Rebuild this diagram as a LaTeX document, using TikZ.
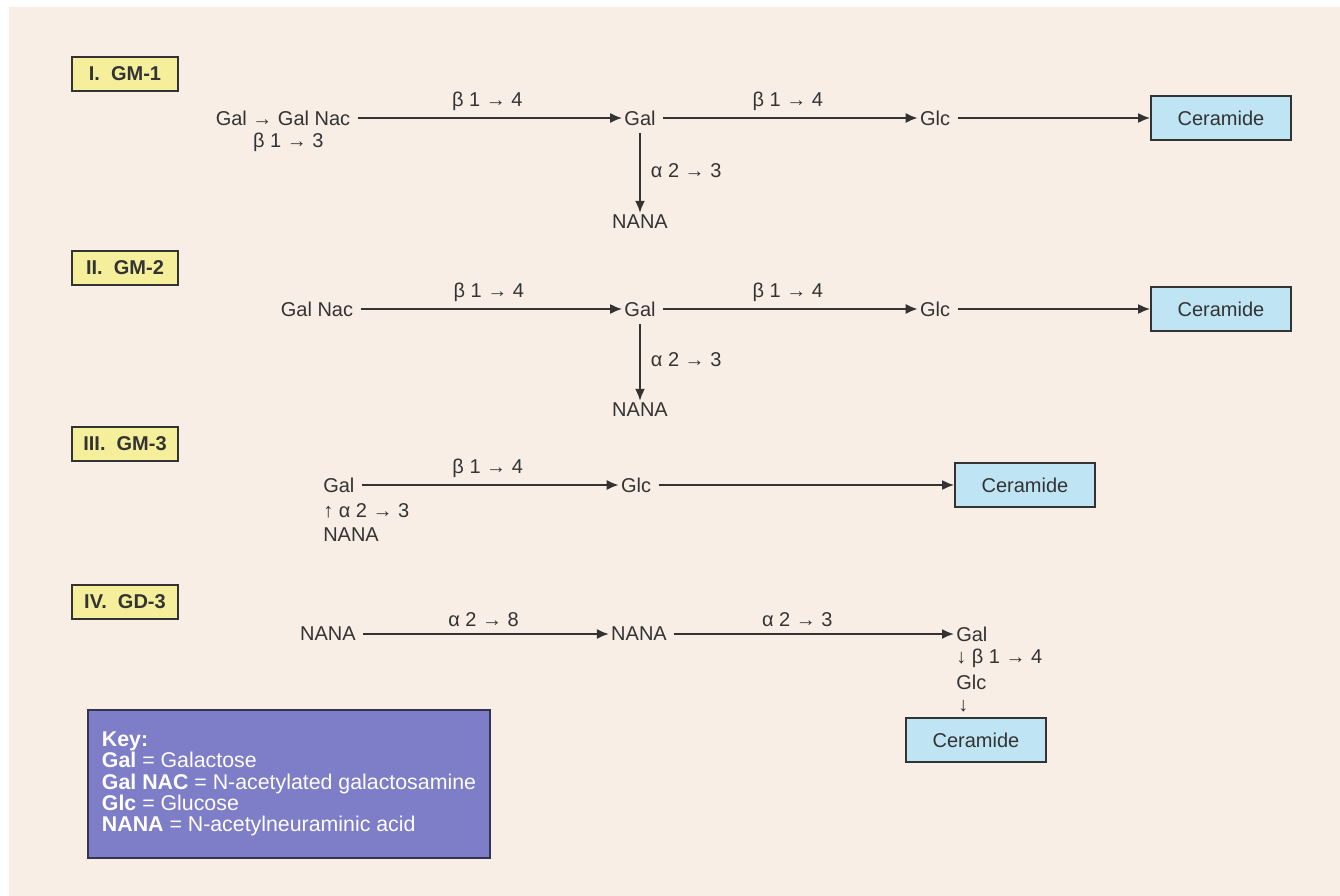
\documentclass[tikz,border=0pt]{standalone}
\usepackage{fontspec}
\setmainfont{Liberation Sans}
\usepackage{xcolor}
\usetikzlibrary{arrows.meta, positioning}
\definecolor{bgc}{HTML}{F8EEE6}
\definecolor{ink}{HTML}{333333}
\definecolor{tagfill}{HTML}{F5EF9C}
\definecolor{cerfill}{HTML}{BFE4F4}
\definecolor{keyfill}{HTML}{7E7DC8}
\definecolor{keyline}{HTML}{34344E}

\begin{document}
\begin{tikzpicture}[x=0.75pt, y=-0.75pt,
  txt/.style={inner sep=1.5pt, text=ink, font=\fontsize{15}{17}\selectfont},
  lab/.style={txt, above=3pt},
  rlab/.style={txt, right=6pt},
  tag/.style={rectangle, draw=ink, line width=1.3pt, fill=tagfill, text=ink,
              minimum width=79pt, minimum height=25.5pt,
              font=\fontsize{15}{17}\selectfont\bfseries},
  cer/.style={rectangle, draw=ink, line width=1.3pt, fill=cerfill, text=ink,
              minimum width=105pt, minimum height=32.5pt,
              font=\fontsize{15}{17}\selectfont},
  keybox/.style={rectangle, draw=keyline, line width=1.5pt, fill=keyfill, text=white,
              minimum width=301.5pt, minimum height=111pt, align=left,
              font=\fontsize{16}{16}\selectfont},
  arr/.style={-{Latex[length=9pt,width=7.5pt]}, line width=1.4pt, draw=ink,
              shorten <=4pt}
]
  \useasboundingbox (0,0) rectangle (1340,896);
  \fill[white] (0,0) rectangle (1340,896);
  \fill[bgc] (9,7) rectangle (1340,896);

  % I. GM-1
  \node[tag] (t1) at (125,74) {I.\ \ GM-1};
  \node[txt] (s1) at (283,118) {Gal → Gal Nac};
  \node[txt, below=2pt of s1, xshift=4pt] (s1b) {β 1 → 3};
  \node[txt] (g1) at (640,118) {Gal};
  \node[txt] (n1) at (640,222) {NANA};
  \node[txt] (c1) at (935,118) {Glc};
  \node[cer] (r1) at (1221,118) {Ceramide};
  \draw[arr] (s1) -- node[lab] {β 1 → 4} (g1);
  \draw[arr] (g1) -- node[lab] {β 1 → 4} (c1);
  \draw[arr] (c1) -- (r1);
  \draw[arr] (g1) -- node[rlab] {α 2 → 3} (n1);

  % II. GM-2
  \node[tag] (t2) at (125,268) {II.\ \ GM-2};
  \node[txt] (s2) at (317,309) {Gal Nac};
  \node[txt] (g2) at (640,309) {Gal};
  \node[txt] (n2) at (640,410) {NANA};
  \node[txt] (c2) at (935,309) {Glc};
  \node[cer] (r2) at (1221,309) {Ceramide};
  \draw[arr] (s2) -- node[lab] {β 1 → 4} (g2);
  \draw[arr] (g2) -- node[lab] {β 1 → 4} (c2);
  \draw[arr] (c2) -- (r2);
  \draw[arr] (g2) -- node[rlab] {α 2 → 3} (n2);

  % III. GM-3
  \node[tag] (t3) at (125,444) {III.\ \ GM-3};
  \node[txt, anchor=west] (g3) at (321,485) {Gal};
  \node[txt, anchor=west] (g3b) at (321,511) {↑ α 2 → 3};
  \node[txt, anchor=west] (g3c) at (321,535) {NANA};
  \node[txt] (c3) at (636,485) {Glc};
  \node[cer] (r3) at (1025,485) {Ceramide};
  \draw[arr] (g3) -- node[lab] {β 1 → 4} (c3);
  \draw[arr] (c3) -- (r3);

  % IV. GD-3
  \node[tag] (t4) at (125,602) {IV.\ \ GD-3};
  \node[txt] (n4) at (328,634) {NANA};
  \node[txt] (m4) at (639,634) {NANA};
  \node[txt, anchor=west] (g4) at (954,634) {Gal};
  \node[txt, anchor=west] (g4b) at (954,658) {↓ β 1 → 4};
  \node[txt, anchor=west] (c4) at (954,682) {Glc};
  \node[txt, anchor=west] (c4b) at (956,706) {↓};
  \node[cer] (r4) at (976,740) {Ceramide};
  \draw[arr] (n4) -- node[lab] {α 2 → 8} (m4);
  \draw[arr] (m4) -- node[lab, pos=0.45] {α 2 → 3} (g4);

  \node[keybox] (key) at (289,784) {\textbf{Key:}\\
    \textbf{Gal} = Galactose\\
    \textbf{Gal NAC} = N-acetylated galactosamine\\
    \textbf{Glc} = Glucose\\
    \textbf{NANA} = N-acetylneuraminic acid};
\end{tikzpicture}
\end{document}
